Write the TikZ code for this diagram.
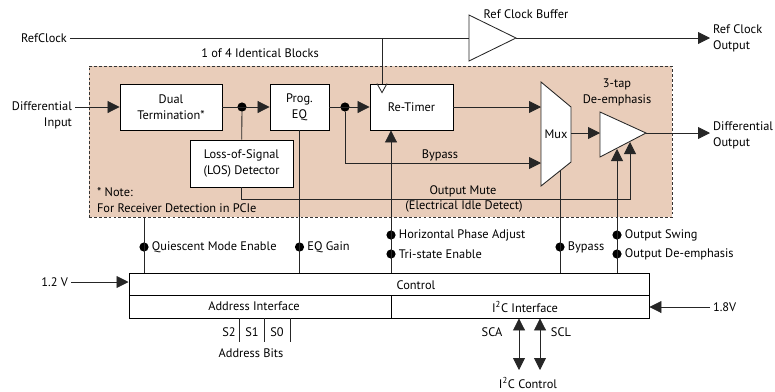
\documentclass[tikz,border=0pt]{standalone}
\usepackage{fontspec}
\setmainfont{PT Sans}
\usetikzlibrary{arrows.meta}
\definecolor{peach}{RGB}{233,205,186}
\tikzstyle{block}=[draw, fill=white, semithick, inner sep=0, align=center]
\tikzstyle{region}=[draw=black!80, fill=peach, semithick, dash pattern=on 2pt off 1.5pt]
\tikzstyle{wire}=[semithick, draw=black!85]
\tikzstyle{signal}=[wire, -{Triangle[length=0.3cm, width=0.3cm]}]
\tikzstyle{both ways}=[wire, {Triangle[length=0.3cm, width=0.3cm]}-{Triangle[length=0.3cm, width=0.3cm]}]
\tikzstyle{dot}=[circle, fill=black, inner sep=0, minimum size=0.23cm]
\tikzstyle{tag}=[inner sep=2pt]

\begin{document}
\begin{tikzpicture}[x=0.025cm, y=-0.025cm, font=\fontsize{8.8}{11.4}\selectfont]
      \useasboundingbox (0, 0) rectangle (775, 391);

      \node[region, minimum width=14.575cm, minimum height=3.775cm] (blk) at (380.5, 141.5) {};
      \node[tag] (blk_title) at (260, 53) {1 of 4 Identical Blocks};
      \node[tag, align=left, anchor=west] (note) at (94, 200.5) {* Note:\\For Receiver Detection in PCIe};

      \node[tag, anchor=east] (refclk) at (70, 38) {RefClock};
      \node[tag, anchor=east, align=right] (diff_in) at (75, 115) {Differential\\Input};
      \node[tag, anchor=west, align=left] (ref_out) at (710, 38) {Ref Clock\\Output};
      \node[tag, anchor=west, align=left] (diff_out) at (710, 135) {Differential\\Output};

      \node[block, minimum width=2.55cm, minimum height=1.15cm] (dual) at (171, 107) {Dual\\Termination*};
      \node[block, minimum width=1.475cm, minimum height=1.15cm] (eq) at (299.5, 107) {Prog.\\EQ};
      \node[block, minimum width=2.075cm, minimum height=1.15cm] (retimer) at (411.5, 107) {Re-Timer};
      \node[block, minimum width=2.575cm, minimum height=1.175cm] (los) at (241.5, 163.5) {Loss-of-Signal\\(LOS) Detector};

      \draw[wire, fill=white] (469, 15) -- (516, 38) -- (469, 61) -- cycle;
      \coordinate (buf_in) at (469, 38);
      \coordinate (buf_tip) at (516, 38);
      \node[tag] (buf_label) at (526, 14) {Ref Clock Buffer};

      \draw[wire, fill=white] (541, 82) -- (571, 107) -- (571, 162) -- (541, 186) -- cycle;
      \node[tag] (mux) at (556, 134) {Mux};
      \coordinate (mux_in_a) at (541, 107);
      \coordinate (mux_in_b) at (541, 163);
      \coordinate (mux_out) at (571, 133);
      \coordinate (mux_byp) at (560, 171);

      \draw[wire, fill=white] (600, 112) -- (646, 133) -- (600, 157) -- cycle;
      \coordinate (deemph_in) at (600, 133);
      \coordinate (deemph_tip) at (646, 133);
      \coordinate (swing_tip) at (617, 149);
      \coordinate (mute_tip) at (630, 142);
      \coordinate (mute_bend) at (630, 199);
      \node[tag, align=center] (deemph_label) at (617, 92) {3-tap\\De-emphasis};

      \node[block, minimum width=13cm, minimum height=0.55cm] (control) at (389, 284) {};
      \node[tag] (control_label) at (416, 285) {Control};
      \node[block, minimum width=6.55cm, minimum height=0.575cm] (addr) at (260, 306.5) {};
      \node[tag] (addr_label) at (254, 306) {Address Interface};
      \node[block, minimum width=6.45cm, minimum height=0.575cm] (i2c) at (520, 306.5) {};
      \node[tag] (i2c_label) at (525, 307) {I\textsuperscript{2}C Interface};

      \node[dot] (dot_los) at (242, 107) {};
      \node[dot] (dot_byp) at (345, 107) {};
      \node[dot] (dot_quiet) at (144, 247) {};
      \node[dot] (dot_eq) at (299.5, 247) {};
      \node[dot] (dot_phase) at (391, 235) {};
      \node[dot] (dot_tri) at (391, 254) {};
      \node[dot] (dot_mux) at (560, 247) {};
      \node[dot] (dot_swing) at (617, 235) {};
      \node[dot] (dot_demph) at (617, 254) {};

      % clock path
      \coordinate (clk_tap) at (382, 38);
      \draw[wire] (refclk) -- (buf_in);
      \draw[signal] (buf_tip) -- (ref_out.west |- buf_tip);
      \draw[wire] (clk_tap) -- (clk_tap |- retimer.north);
      \draw[wire] (clk_tap |- retimer.north) ++(-5, 0) -- ++(5, 9) -- ++(5, -9);

      % data path
      \draw[signal] (diff_in.east |- dual.west) -- (dual.west);
      \draw[signal] (dual) -- (eq);
      \draw[wire] (dot_los) -- (los);
      \draw[signal] (eq) -- (retimer);
      \draw[signal] (retimer) -- (mux_in_a);
      \draw[signal] (dot_byp) |- (mux_in_b);
      \node[tag] (byp_label) at (440, 155) {Bypass};
      \draw[signal] (mux_out) -- (deemph_in);
      \draw[signal] (deemph_tip) -- (diff_out.west |- deemph_tip);
      \draw[signal] (los) |- (mute_bend) -- (mute_tip);
      \node[tag] (mute_label) at (463, 191) {Output Mute};
      \node[tag] (idle_label) at (464, 206) {(Electrical Idle Detect)};

      % control lines
      \draw[wire] (blk.south -| dot_quiet) -- (control.north -| dot_quiet);
      \draw[wire] (eq) -- (control.north -| eq.south);
      \draw[signal] (control.north -| dot_phase) -- (retimer.south -| dot_phase);
      \draw[wire] (mux_byp) -- (control.north -| mux_byp);
      \draw[signal] (control.north -| swing_tip) -- (swing_tip);

      \node[tag, anchor=west] (quiet_label) at (dot_quiet.east) {Quiescent Mode Enable};
      \node[tag, anchor=west] (eq_label) at (dot_eq.east) {EQ Gain};
      \node[tag, anchor=west] (phase_label) at (dot_phase.east) {Horizontal Phase Adjust};
      \node[tag, anchor=west] (tri_label) at (dot_tri.east) {Tri-state Enable};
      \node[tag, anchor=west] (mux_label) at (dot_mux.east) {Bypass};
      \node[tag, anchor=west] (swing_label) at (dot_swing.east) {Output Swing};
      \node[tag, anchor=west] (demph_label) at (dot_demph.east) {Output De-emphasis};

      % supplies
      \node[tag, anchor=east] (v12) at (71, 282) {1.2 V};
      \node[tag, anchor=west] (v18) at (710, 307) {1.8V};
      \draw[signal] (v12) -- (v12 -| control.west);
      \draw[signal] (v18) -- (v18 -| i2c.east);

      % address bits
      \foreach \x in {239, 264, 290}
        \draw[wire] (\x, 318) -- (\x, 342);
      \node[tag] (bit_s2) at (229, 332) {S2};
      \node[tag] (bit_s1) at (252, 332) {S1};
      \node[tag] (bit_s0) at (277, 332) {S0};
      \node[tag] (addr_bits) at (251, 353) {Address Bits};

      % i2c bus
      \coordinate (sca_end) at (519, 370);
      \coordinate (scl_end) at (540, 370);
      \draw[both ways] (i2c.south -| sca_end) -- (sca_end);
      \draw[both ways] (i2c.south -| scl_end) -- (scl_end);
      \node[tag] (sca_label) at (492, 332) {SCA};
      \node[tag] (scl_label) at (561, 332) {SCL};
      \node[tag] (i2c_ctrl) at (528, 383) {I\textsuperscript{2}C Control};
    \end{tikzpicture}
\end{document}
